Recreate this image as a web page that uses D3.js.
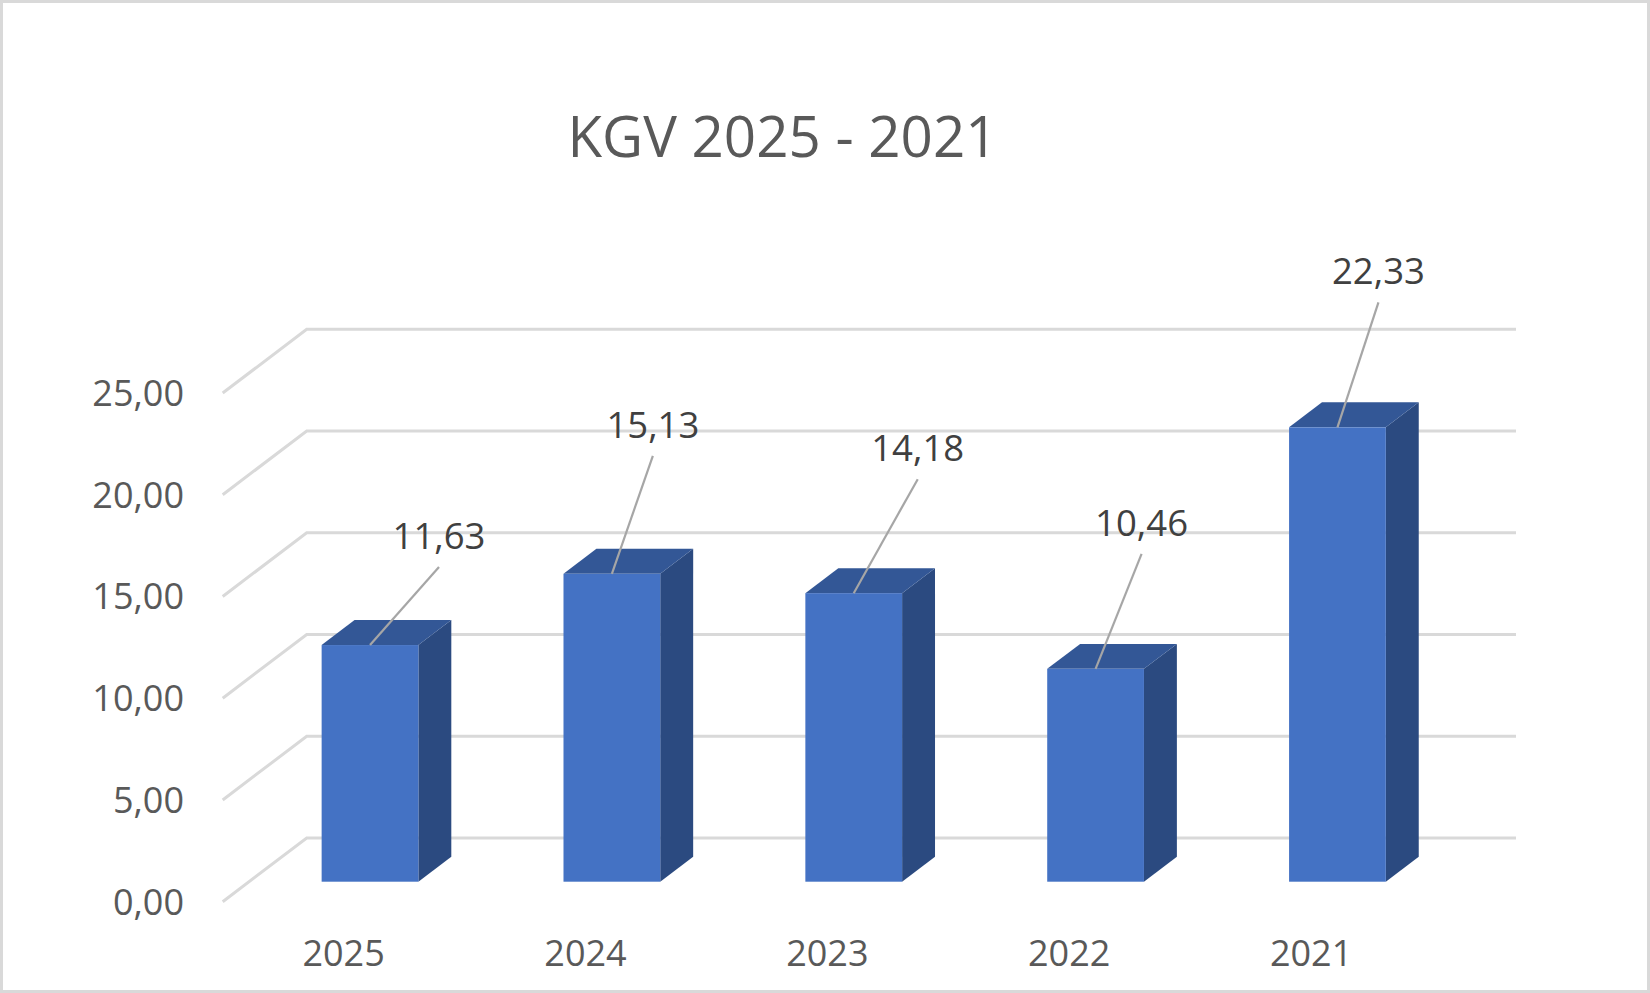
<!DOCTYPE html>
<html>
<head>
<meta charset="utf-8">
<script src="https://cdn.jsdelivr.net/npm/d3@7/dist/d3.min.js"></script>
<style>
  html, body { margin: 0; padding: 0; background: #fff; }
  #chart svg { display: block; }
</style>
</head>
<body>
<div id="chart"></div>
<script>
// KGV 2025 - 2021, pseudo-3D column chart
const years = ["2025", "2024", "2023", "2022", "2021"];
const kgv = [11.63, 15.13, 14.18, 10.46, 22.33];
const yTicks = [0, 5, 10, 15, 20, 25];
const title = "KGV 2025 - 2021";

(function drawChart() {
  const width = 1650;
  const height = 993;
  const font = "'Open Sans', 'DejaVu Sans', sans-serif";

  // back wall of the 3D box, depth vector goes toward the viewer (down-left)
  const depthX = -84;
  const depthY = 63.7;
  const barFront = 0.686;
  const barBack = 0.294;

  // manual data label placement (offset from the top front edge middle)
  const labelShift = [[69, -96], [41, -136], [64, -132], [46, -133], [41, -143]];

  const de = d3.formatLocale({ decimal: ",", thousands: ".", grouping: [3], currency: ["", "€"] });
  const fmt = de.format(".2f");

  const svg = d3.select("#chart")
    .append("svg")
    .attr("width", width)
    .attr("height", height);

  svg.append("rect")
    .attr("x", 1.5).attr("y", 1.5)
    .attr("width", width - 3).attr("height", height - 3)
    .attr("fill", "#fff")
    .attr("stroke", "#d9d9d9")
    .attr("stroke-width", 3);

  const x = d3.scaleBand().domain(years).range([306.7, 1516]).padding(0);
  const y = d3.scaleLinear().domain([0, 25]).range([838, 329.3]);
  const bw = x.bandwidth() * 0.4;

  svg.append("text")
    .attr("x", 782.5)
    .attr("y", 157)
    .attr("text-anchor", "middle")
    .attr("font-family", font)
    .attr("font-size", 56.5)
    .attr("fill", "#595959")
    .text(title);

  // gridlines: back wall + left side wall
  const grid = svg.append("g")
    .attr("stroke", "#d9d9d9")
    .attr("stroke-width", 3)
    .attr("fill", "none");

  grid.selectAll("path")
    .data(yTicks)
    .join("path")
    .attr("d", (t) => {
      const yy = y(t);
      return `M${x.range()[0] + depthX},${yy + depthY}L${x.range()[0]},${yy}L${x.range()[1]},${yy}`;
    });

  svg.append("g")
    .selectAll("text")
    .data(yTicks)
    .join("text")
    .attr("x", 184)
    .attr("y", (t) => y(t) + depthY + 13)
    .attr("text-anchor", "end")
    .attr("font-family", font)
    .attr("font-size", 36)
    .attr("fill", "#595959")
    .text((t) => fmt(t));

  const bars = years.map((c, i) => {
    const cx = x(c) + x.bandwidth() / 2;
    const v = kgv[i];
    const fx = cx + depthX * barFront;
    const bx = cx + depthX * barBack;
    return {
      c, v, i,
      fl: fx - bw / 2, fr: fx + bw / 2,
      bl: bx - bw / 2, br: bx + bw / 2,
      fTop: y(v) + depthY * barFront, fBot: y(0) + depthY * barFront,
      bTop: y(v) + depthY * barBack, bBot: y(0) + depthY * barBack,
      fx, cx
    };
  });

  const g = svg.append("g").selectAll("g").data(bars).join("g");

  g.append("path")
    .attr("fill", "#2b4a80")
    .attr("d", (d) => `M${d.fr},${d.fTop}L${d.br},${d.bTop}L${d.br},${d.bBot}L${d.fr},${d.fBot}Z`);

  g.append("path")
    .attr("fill", "#335796")
    .attr("d", (d) => `M${d.fl},${d.fTop}L${d.fr},${d.fTop}L${d.br},${d.bTop}L${d.bl},${d.bTop}Z`);

  g.append("rect")
    .attr("fill", "#4472c4")
    .attr("x", (d) => d.fl)
    .attr("y", (d) => d.fTop)
    .attr("width", bw)
    .attr("height", (d) => d.fBot - d.fTop);

  // category labels on the front floor edge
  svg.append("g")
    .selectAll("text")
    .data(bars)
    .join("text")
    .attr("x", (d) => d.cx + depthX)
    .attr("y", 965.5)
    .attr("text-anchor", "middle")
    .attr("font-family", font)
    .attr("font-size", 36)
    .attr("fill", "#595959")
    .text((d) => d.c);

  // data labels with leader lines
  const lab = svg.append("g").selectAll("g").data(bars).join("g");

  lab.append("line")
    .attr("x1", (d) => d.fx)
    .attr("y1", (d) => d.fTop)
    .attr("x2", (d) => d.fx + labelShift[d.i][0])
    .attr("y2", (d) => d.fTop + labelShift[d.i][1] + 18)
    .attr("stroke", "#a6a6a6")
    .attr("stroke-width", 2.2);

  lab.append("text")
    .attr("x", (d) => d.fx + labelShift[d.i][0])
    .attr("y", (d) => d.fTop + labelShift[d.i][1])
    .attr("text-anchor", "middle")
    .attr("font-family", font)
    .attr("font-size", 36.5)
    .attr("fill", "#404040")
    .text((d) => fmt(d.v));
})();
</script>
</body>
</html>
